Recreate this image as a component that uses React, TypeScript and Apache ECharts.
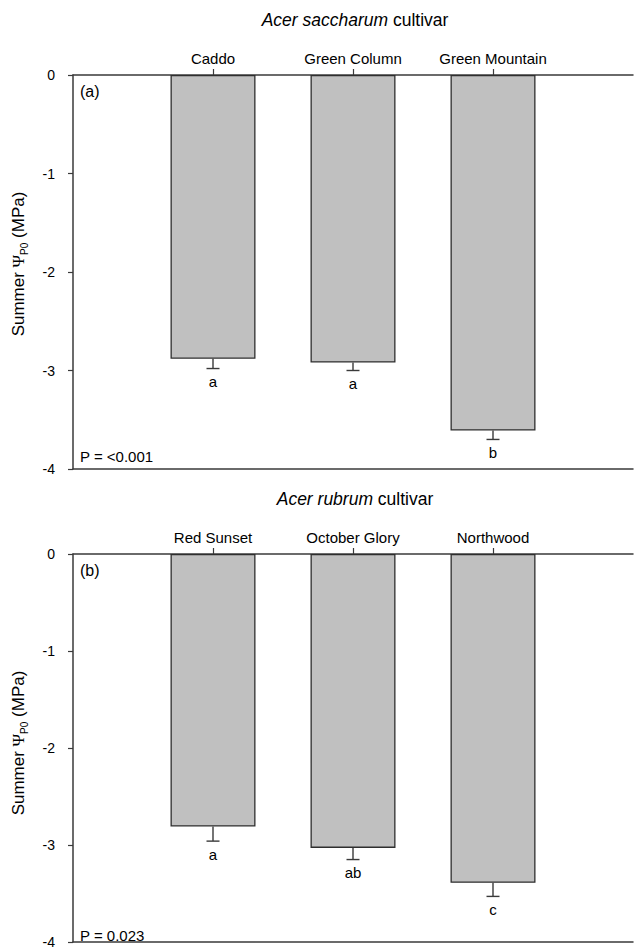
import React, { useEffect, useRef } from "react";
import * as echarts from "echarts";

const CATS_A = ["Caddo", "Green Column", "Green Mountain"];
const MEANS_A = [-2.88, -2.92, -3.61];
const SE_A = [0.1, 0.08, 0.09];
const LETTERS_A = ["a", "a", "b"];

const CATS_B = ["Red Sunset", "October Glory", "Northwood"];
const MEANS_B = [-2.81, -3.03, -3.39];
const SE_B = [0.15, 0.12, 0.14];
const LETTERS_B = ["a", "ab", "c"];

const Y_MIN = -4;
const Y_MAX = 0;
const Y_STEP = 1;

const TITLES = ["Acer saccharum", "Acer rubrum"];
const PANEL_TAGS = ["(a)", "(b)"];
const P_TEXTS = ["P = <0.001", "P = 0.023"];

const FONT = "'Liberation Sans', Arial, sans-serif";
const AXIS_COLOR = "#3a3a3a";

export default function App() {
  const ref = useRef<HTMLDivElement>(null);
  useEffect(() => {
    if (!ref.current) return;
    const chart = echarts.init(ref.current, undefined, { renderer: "svg" });
    const grids = [
      { left: 73, top: 75, width: 566, height: 394 },
      { left: 73, top: 554, width: 566, height: 394 },
    ];
    const panels = [
      { cats: CATS_A, means: MEANS_A, se: SE_A, letters: LETTERS_A },
      { cats: CATS_B, means: MEANS_B, se: SE_B, letters: LETTERS_B },
    ];
    const xAxes: any[] = [];
    const yAxes: any[] = [];
    const series: any[] = [];
    const graphics: any[] = [];
    panels.forEach((p, gi) => {
      xAxes.push({
        type: "category",
        gridIndex: gi,
        position: "top",
        data: ["", ...p.cats, ""],
        boundaryGap: false,
        axisLine: { show: true, onZero: false, lineStyle: { color: AXIS_COLOR, width: 1.5 } },
        axisTick: {
          show: true,
          interval: (i: number) => i >= 1 && i <= p.cats.length,
          length: 6,
          lineStyle: { color: AXIS_COLOR, width: 1.2 },
        },
        axisLabel: { interval: 0, margin: 9, color: "#000", fontSize: 15, fontFamily: FONT },
        splitLine: { show: false },
      });
      xAxes.push({
        type: "value",
        gridIndex: gi,
        position: "bottom",
        min: 0,
        max: 1,
        axisLine: { show: true, onZero: false, lineStyle: { color: AXIS_COLOR, width: 1.5 } },
        axisTick: { show: false },
        axisLabel: { show: false },
        splitLine: { show: false },
      });
      yAxes.push({
        type: "value",
        gridIndex: gi,
        min: Y_MIN,
        max: Y_MAX,
        interval: Y_STEP,
        axisLine: { show: true, onZero: false, lineStyle: { color: AXIS_COLOR, width: 1.5 } },
        axisTick: { show: true, length: 5, lineStyle: { color: AXIS_COLOR, width: 1.2 } },
        axisLabel: { color: "#000", fontSize: 14, fontFamily: FONT, margin: 18 },
        splitLine: { show: false },
      });
      series.push({
        type: "bar",
        xAxisIndex: gi * 2,
        yAxisIndex: gi,
        barWidth: 85,
        data: ["-", ...p.means, "-"],
        itemStyle: { color: "#c0c0c0", borderColor: "#2e2e2e", borderWidth: 1.3 },
        silent: true,
      });
      series.push({
        type: "custom",
        xAxisIndex: gi * 2,
        yAxisIndex: gi,
        z: 5,
        data: p.means.map((m, i) => [i + 1, m, p.se[i]]),
        renderItem: (params: any, api: any) => {
          const x = api.value(0);
          const m = api.value(1);
          const e = api.value(2);
          const a = api.coord([x, m]);
          const b = api.coord([x, m - e]);
          const cap = 6.5;
          return {
            type: "group",
            children: [
              { type: "line", shape: { x1: a[0], y1: a[1], x2: b[0], y2: b[1] }, style: { stroke: AXIS_COLOR, lineWidth: 1.4 } },
              { type: "line", shape: { x1: b[0] - cap, y1: b[1], x2: b[0] + cap, y2: b[1] }, style: { stroke: AXIS_COLOR, lineWidth: 1.4 } },
              {
                type: "text",
                style: {
                  text: p.letters[params.dataIndex],
                  x: b[0],
                  y: b[1] + 13,
                  align: "center",
                  verticalAlign: "middle",
                  fontSize: 15,
                  fontFamily: FONT,
                  fill: "#000",
                },
              },
            ],
          };
        },
      });
      const g = grids[gi];
      graphics.push({
        type: "text",
        x: 355,
        y: g.top - 55,
        style: {
          text: `{i|${TITLES[gi]}}{n| cultivar}`,
          align: "center",
          verticalAlign: "middle",
          rich: {
            i: { fontSize: 17.5, fontStyle: "italic", fontFamily: FONT, fill: "#000" },
            n: { fontSize: 17.5, fontFamily: FONT, fill: "#000" },
          },
        },
      });
      graphics.push({
        type: "text",
        x: 80,
        y: g.top + 16,
        style: { text: PANEL_TAGS[gi], fontSize: 16, fontFamily: FONT, fill: "#000", verticalAlign: "middle" },
      });
      graphics.push({
        type: "text",
        x: 80,
        y: g.top + g.height - 13,
        style: { text: P_TEXTS[gi], fontSize: 15, fontFamily: FONT, fill: "#000", verticalAlign: "middle" },
      });
      graphics.push({
        type: "text",
        x: 18,
        y: g.top + g.height / 2 - 8,
        rotation: Math.PI / 2,
        style: {
          text: "{n|Summer }{p|Ψ}{s|P0}{n| (MPa)}",
          align: "center",
          verticalAlign: "middle",
          rich: {
            n: { fontSize: 17, fontFamily: FONT, fill: "#000", lineHeight: 22, verticalAlign: "middle" },
            p: { fontSize: 17, fontFamily: "'Liberation Serif', serif", fill: "#000", lineHeight: 22, verticalAlign: "middle" },
            s: { fontSize: 10, fontFamily: FONT, fill: "#000", lineHeight: 14, verticalAlign: "bottom" },
          },
        },
      });
    });

    chart.setOption({
      animation: false,
      backgroundColor: "#ffffff",
      grid: grids,
      xAxis: xAxes,
      yAxis: yAxes,
      series,
      graphic: graphics,
    });
    return () => chart.dispose();
  }, []);
  return (
    <div
      ref={ref}
      style={{ position: "fixed", left: 0, top: 0, width: 636, height: 949, background: "#fff" }}
    />
  );
}
